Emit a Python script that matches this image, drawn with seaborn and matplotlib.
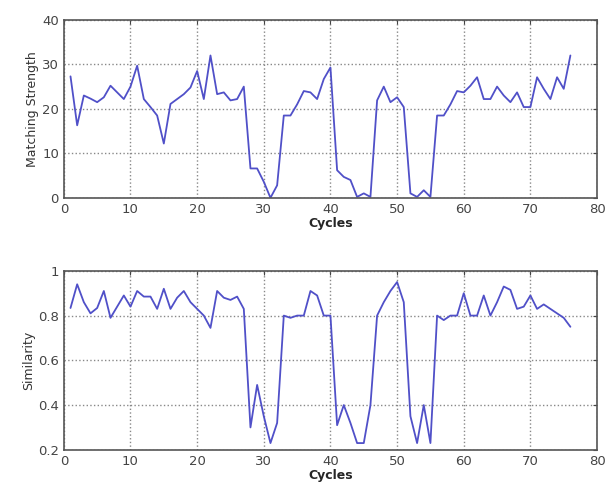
import matplotlib
matplotlib.use("Agg")
import matplotlib.pyplot as plt
import seaborn as sns
import pandas as pd

cycles = list(range(1, 77))
strength = [27.3, 16.3, 23, 22.3, 21.5, 22.6, 25.2, 23.7, 22.2, 25,
            29.7, 22.2, 20.4, 18.5, 12.2, 21.1, 22.2, 23.3, 24.8, 28.5,
            22.2, 32, 23.3, 23.7, 21.9, 22.2, 25, 6.6, 6.6, 3.6,
            0, 2.8, 18.5, 18.5, 21, 24, 23.7, 22.2, 26.7, 29.3,
            6.2, 4.7, 4, 0.2, 1, 0.2, 21.9, 25, 21.5, 22.6,
            20.4, 1, 0.2, 1.7, 0.2, 18.5, 18.5, 21, 24, 23.7,
            25.2, 27.1, 22.2, 22.2, 25, 23, 21.5, 23.7, 20.4, 20.4,
            27.1, 24.5, 22.2, 27.1, 24.5, 32]
similarity = [0.834, 0.94, 0.86, 0.81, 0.834, 0.91, 0.79, 0.84, 0.89, 0.84,
              0.91, 0.885, 0.885, 0.83, 0.92, 0.83, 0.88, 0.91, 0.86, 0.83,
              0.8, 0.745, 0.91, 0.88, 0.87, 0.885, 0.83, 0.3, 0.49, 0.35,
              0.23, 0.32, 0.8, 0.79, 0.8, 0.8, 0.91, 0.89, 0.8, 0.8,
              0.31, 0.4, 0.32, 0.23, 0.23, 0.4, 0.8, 0.86, 0.91, 0.95,
              0.86, 0.35, 0.23, 0.4, 0.23, 0.8, 0.78, 0.8, 0.8, 0.9,
              0.8, 0.8, 0.89, 0.8, 0.86, 0.93, 0.915, 0.83, 0.84, 0.89,
              0.83, 0.85, 0.83, 0.81, 0.79, 0.75]

df = pd.DataFrame({"Cycles": cycles, "strength": strength, "similarity": similarity})

sns.set_style("white")
fig = plt.figure(figsize=(6.08, 4.97), dpi=100)
ax1 = fig.add_axes([0.105, 0.602, 0.877, 0.358])
ax2 = fig.add_axes([0.105, 0.095, 0.877, 0.36])

line_color = "#5050c8"
sns.lineplot(data=df, x="Cycles", y="strength", ax=ax1, color=line_color, linewidth=1.3)
sns.lineplot(data=df, x="Cycles", y="similarity", ax=ax2, color=line_color, linewidth=1.3)

ax1.set_ylim(0, 40)
ax1.set_yticks([0, 10, 20, 30, 40])
ax1.set_ylabel("Matching Strength", fontsize=9, color="#333333", labelpad=2)
ax2.set_ylim(0.2, 1)
ax2.set_yticks([0.2, 0.4, 0.6, 0.8, 1])
ax2.set_yticklabels(["0.2", "0.4", "0.6", "0.8", "1"])
ax2.set_ylabel("Similarity", fontsize=9, color="#333333", labelpad=2)

for ax in (ax1, ax2):
    ax.set_xlim(0, 80)
    ax.set_xticks(range(0, 81, 10))
    ax.set_xlabel("Cycles", fontsize=9, fontweight="bold", labelpad=1)
    ax.grid(True, linestyle=":", color="#888888", linewidth=1.0)
    ax.tick_params(labelsize=9.5, colors="#444444", length=3, direction="in",
                   top=True, right=True)
    for s in ax.spines.values():
        s.set_color("#555555")
        s.set_linewidth(1.2)

fig.savefig("out.png", dpi=100)
